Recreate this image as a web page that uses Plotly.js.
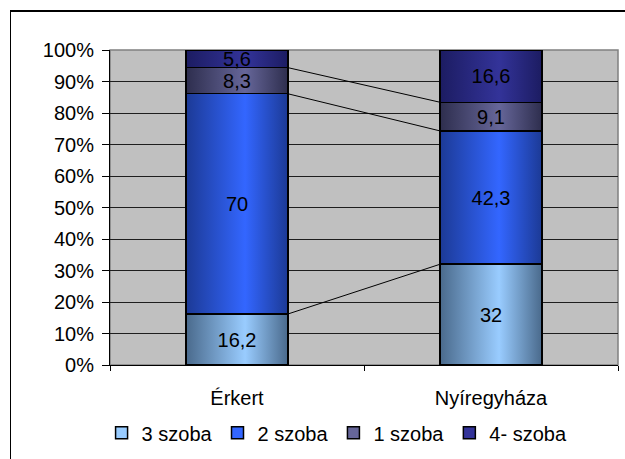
<!DOCTYPE html>
<html>
<head>
<meta charset="utf-8">
<script src="https://cdn.plot.ly/plotly-3.0.1.min.js"></script>
<style>
  html, body { margin: 0; padding: 0; background: #fff; }
  #wrap { position: relative; width: 625px; height: 459px; overflow: hidden; }
  #chart { width: 625px; height: 459px; }
  #frame { position: absolute; left: 10px; top: 10px; width: 700px; height: 600px;
           border: 1px solid #000; border-top-width: 2px; pointer-events: none; box-sizing: border-box; }
</style>
</head>
<body>
<div id="wrap">
  <div id="chart"></div>
  <div id="frame"></div>
</div>
<script>
// ---- data ----
const categories = ['Érkert', 'Nyíregyháza'];
const seriesNames = ['3 szoba', '2 szoba', '1 szoba', '4- szoba'];
const szoba3 = [16.2, 32];
const szoba2 = [70, 42.3];
const szoba1 = [8.3, 9.1];
const szoba4 = [5.6, 16.6];
const yTickVals = [0, 10, 20, 30, 40, 50, 60, 70, 80, 90, 100];

// ---- styles ----
const centerColors = ['#99ccff', '#3366ff', '#666699', '#333399'];
const edgeColors   = ['#4a6a8c', '#1c3a96', '#2e2e4e', '#1c1c62'];
const barWidth = 0.4;

const allSeries = [szoba3, szoba2, szoba1, szoba4];
const xPos = categories.map((c, i) => i);
const fmt = v => String(v).replace('.', ',');

const traces = allSeries.map((vals, s) => ({
  type: 'bar',
  name: seriesNames[s],
  x: xPos,
  y: vals,
  width: barWidth,
  text: vals.map(fmt),
  texttemplate: '%{text}',
  textposition: 'inside',
  insidetextanchor: 'middle',
  constraintext: 'none',
  textangle: 0,
  textfont: { family: 'Liberation Sans, Arial, sans-serif', size: 20, color: '#000' },
  marker: { color: centerColors[s], line: { color: '#000', width: 1.5 } },
  hoverinfo: 'skip'
}));

// series lines connecting stacked segment tops between the two bars
const totals = xPos.map(i => allSeries.reduce((a, s) => a + s[i], 0));
let cum = xPos.map(() => 0);
for (let s = 0; s < allSeries.length - 1; s++) {
  cum = cum.map((c, i) => c + allSeries[s][i]);
  const pct = cum.map((c, i) => c / totals[i] * 100);
  traces.push({
    type: 'scatter',
    mode: 'lines',
    x: [xPos[0] + barWidth / 2, xPos[1] - barWidth / 2],
    y: [pct[0], pct[1]],
    line: { color: '#000', width: 1 },
    showlegend: false,
    hoverinfo: 'skip'
  });
}

const layout = {
  width: 625,
  height: 459,
  margin: { l: 110, r: 7, t: 50, b: 87, pad: 0 },
  paper_bgcolor: 'rgba(0,0,0,0)',
  plot_bgcolor: '#c0c0c0',
  font: { family: 'Liberation Sans, Arial, sans-serif', size: 20, color: '#000' },
  barmode: 'stack',
  barnorm: 'percent',
  showlegend: true,
  xaxis: {
    range: [-0.5, 1.5],
    tickvals: xPos,
    ticktext: categories,
    ticks: '',
    ticklabelstandoff: 15,
    showgrid: false,
    zeroline: false,
    showline: true,
    linecolor: '#000',
    linewidth: 1,
    minor: { tick0: -0.5, dtick: 1, ticks: 'outside', ticklen: 5, tickcolor: '#000', showgrid: false },
    fixedrange: true
  },
  yaxis: {
    range: [0, 100],
    tickvals: yTickVals,
    ticktext: yTickVals.map(v => v + '%'),
    ticks: 'outside',
    ticklen: 7,
    tickcolor: '#000',
    ticklabelstandoff: 4,
    showgrid: true,
    gridcolor: '#1e1e1e',
    gridwidth: 1,
    showline: true,
    linecolor: '#000',
    linewidth: 1,
    zeroline: false,
    fixedrange: true
  },
  legend: {
    orientation: 'h',
    x: 0.447,
    xanchor: 'center',
    y: -0.215,
    yanchor: 'middle',
    traceorder: 'normal',
    font: { size: 20 },
    bgcolor: 'rgba(0,0,0,0)'
  },
  shapes: [{
    type: 'rect', xref: 'paper', yref: 'paper', x0: 0, x1: 1, y0: 0, y1: 1,
    line: { color: '#808080', width: 1.5 }, layer: 'below'
  }]
};

function applyGradients(gd) {
  const ns = 'http://www.w3.org/2000/svg';
  const svg = gd.querySelector('svg.main-svg');
  let defs = svg.querySelector('defs');
  if (!defs) { defs = document.createElementNS(ns, 'defs'); svg.insertBefore(defs, svg.firstChild); }
  centerColors.forEach((c, i) => {
    const g = document.createElementNS(ns, 'linearGradient');
    g.setAttribute('id', 'bargrad' + i);
    g.setAttribute('x1', '0'); g.setAttribute('x2', '1');
    g.setAttribute('y1', '0'); g.setAttribute('y2', '0');
    [[0, edgeColors[i]], [0.58, c], [1, edgeColors[i]]].forEach(([o, col]) => {
      const st = document.createElementNS(ns, 'stop');
      st.setAttribute('offset', o);
      st.setAttribute('stop-color', col);
      g.appendChild(st);
    });
    defs.appendChild(g);
  });
  gd.querySelectorAll('.barlayer .trace').forEach((tr, i) => {
    tr.querySelectorAll('.point path').forEach(p => { p.style.fill = 'url(#bargrad' + i + ')'; });
  });
}

Plotly.newPlot('chart', traces, layout, { displayModeBar: false, staticPlot: true })
  .then(applyGradients);
</script>
</body>
</html>
